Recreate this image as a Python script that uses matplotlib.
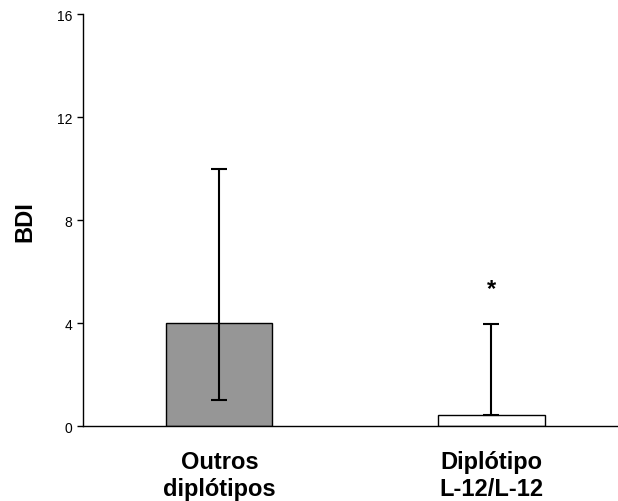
import matplotlib
matplotlib.use("Agg")
import matplotlib.pyplot as plt
import numpy as np

plt.rcParams["font.family"] = ["Liberation Sans", "DejaVu Sans"]

categories = ["Outros\ndiplótipos", "Diplótipo\nL-12/L-12"]
means = [4.0, 0.45]
err_low = [1.0, 0.42]
err_high = [10.0, 3.95]
bar_colors = ["#969696", "#ffffff"]
star_label = "*"
star_y = 5.35

fig = plt.figure(figsize=(6.18, 5.02), dpi=100)
ax = fig.add_axes([0.134, 0.149, 0.866, 0.821])

x = np.arange(len(categories))
ax.bar(x, means, width=0.39, color=bar_colors, edgecolor="black", linewidth=1.0, zorder=2)

yerr = np.array([np.array(means) - np.array(err_low), np.array(err_high) - np.array(means)])
ax.errorbar(x, means, yerr=yerr, fmt="none", ecolor="black", elinewidth=1.5,
            capsize=5.5, capthick=1.5, zorder=3)

ax.text(x[1], star_y, star_label, ha="center", va="center", fontsize=17, fontweight="bold")

ax.set_xlim(-0.502, 1.465)
ax.set_ylim(0, 16)
ax.set_yticks([0, 4, 8, 12, 16])
ax.tick_params(axis="y", labelsize=10, length=4, width=1.0, direction="out")
ax.set_xticks(x)
ax.set_xticklabels(categories, fontsize=17, fontweight="bold", linespacing=1.25)
ax.tick_params(axis="x", length=0, pad=17)

ax.set_ylabel("BDI", fontsize=17, fontweight="bold", labelpad=15)

for side in ["top", "right"]:
    ax.spines[side].set_visible(False)
ax.spines["left"].set_linewidth(1.0)
ax.spines["bottom"].set_linewidth(1.0)

fig.savefig("out.png", dpi=100)
